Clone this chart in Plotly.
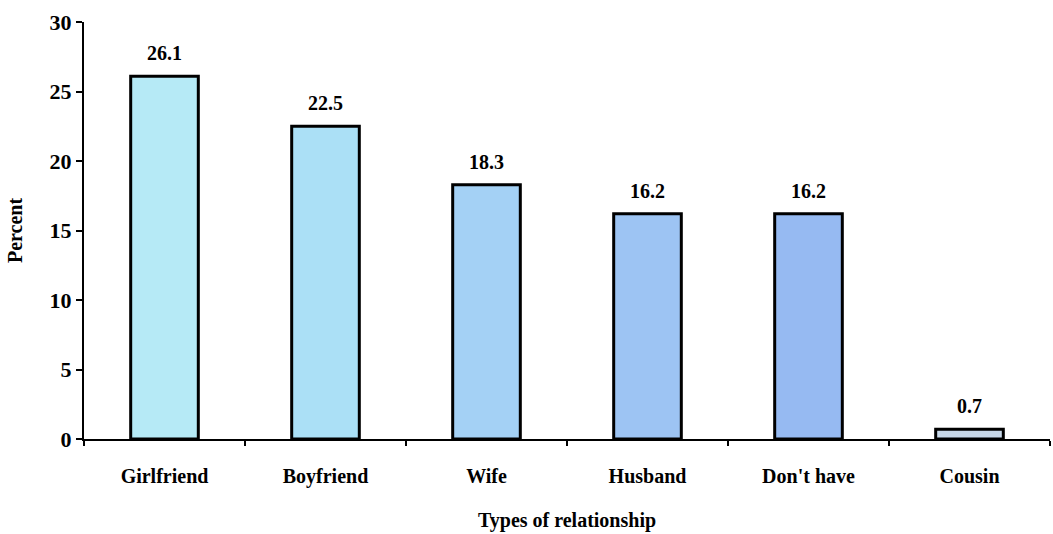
import plotly.graph_objects as go

categories = ["Girlfriend", "Boyfriend", "Wife", "Husband", "Don't have", "Cousin"]
percent = [26.1, 22.5, 18.3, 16.2, 16.2, 0.7]
bar_colors = ["#b6eaf6", "#abe0f6", "#a4d1f5", "#9dc4f3", "#96baf2", "#c9d9ea"]
y_ticks = [0, 5, 10, 15, 20, 25, 30]

font_family = "Liberation Serif, Times New Roman, serif"

fig = go.Figure()
fig.add_trace(go.Bar(
    x=categories,
    y=percent,
    width=0.42,
    marker=dict(color=bar_colors, line=dict(color="black", width=3)),
    hoverinfo="x+y",
))

for cat, val in zip(categories, percent):
    fig.add_annotation(
        x=cat, y=val, text=f"<b>{val}</b>", showarrow=False,
        yanchor="bottom", yshift=10,
        font=dict(family=font_family, size=20, color="black"),
    )

fig.update_layout(
    width=1053, height=534,
    margin=dict(l=84, r=3, t=22, b=95),
    paper_bgcolor="white", plot_bgcolor="white",
    showlegend=False,
    font=dict(family=font_family, color="black"),
    bargap=0.58,
)

fig.update_xaxes(
    type="category",
    showline=True, linecolor="black", linewidth=2,
    ticks="outside", tickson="boundaries", ticklen=5, tickcolor="black", tickwidth=2,
    ticklabelstandoff=18,
    tickfont=dict(family=font_family, size=20, color="black", weight="bold"),
    title=dict(text="<b>Types of relationship</b>", standoff=26,
               font=dict(family=font_family, size=20, color="black")),
    showgrid=False,
)

fig.update_yaxes(
    range=[0, 30],
    tickvals=y_ticks,
    showline=True, linecolor="black", linewidth=2,
    ticks="outside", ticklen=6, tickcolor="black", tickwidth=2,
    tickfont=dict(family=font_family, size=22, color="black", weight="bold"),
    title=dict(text="<b>Percent</b>", standoff=22,
               font=dict(family=font_family, size=20, color="black")),
    showgrid=False, zeroline=False,
)

fig.write_html("out.html")
